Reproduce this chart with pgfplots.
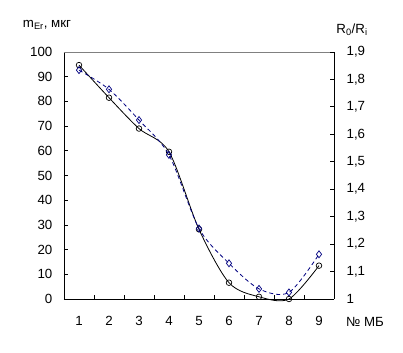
\documentclass[border=0pt]{standalone}
\usepackage{pgfplots}
\pgfplotsset{compat=1.18}
\usepackage{fontspec}
\setmainfont{Liberation Sans}
\definecolor{navy}{HTML}{000080}
\begin{document}
\fontsize{13.3bp}{16bp}\selectfont
\begin{tikzpicture}
\pgfplotsset{
  common/.style={
    scale only axis, width=270bp, height=247bp,
    xmin=0.5, xmax=9.5,
    tick align=inside, major tick length=4bp,
    tick style={black, line width=0.8bp},
    axis line style={line width=0.8bp, -},
    /pgf/number format/assume math mode=true,
    ticklabel style={font=\fontsize{13.3bp}{16bp}\selectfont},
    clip=false,
  }
}
\begin{axis}[common,
  ymin=0, ymax=100,
  axis x line*=bottom, axis y line*=left,
  ytick={0,10,...,100},
  xtick={1.5,2.5,...,8.5}, xticklabels={},
  extra x ticks={1,2,3,4,5,6,7,8,9},
  extra x tick labels={1,2,3,4,5,6,7,8,9},
  extra x tick style={major tick length=0pt, xticklabel style={yshift=-13bp}},
  yticklabel style={xshift=-7bp},
]
\coordinate (sw) at (rel axis cs:0,0);
\draw[gray, line width=0.8bp] (rel axis cs:0,1) -- (rel axis cs:1,1);
\addplot[black, line width=0.8bp, smooth, mark=o, mark size=2.8bp, mark options={solid, line width=0.7bp}]
  coordinates {(1,94.7) (2,81.5) (3,69) (4,59.6) (5,28.2) (6,6.6) (7,0.9) (8,0) (9,13.5)};
\end{axis}
\begin{axis}[common,
  ymin=1, ymax=1.9,
  axis y line*=right, axis x line=none,
  ytick={1,1.1,1.2,1.3,1.4,1.5,1.6,1.7,1.8,1.9},
  yticklabels={1,{1,1},{1,2},{1,3},{1,4},{1,5},{1,6},{1,7},{1,8},{1,9}},
  yticklabel style={xshift=8bp},
]
\addplot[navy, line width=0.8bp, smooth, dash pattern=on 4bp off 3bp, mark=diamond, mark size=3.5bp, mark options={solid, line width=0.7bp}]
  coordinates {(1,1.834) (2,1.764) (3,1.652) (4,1.525) (5,1.257) (6,1.13) (7,1.037) (8,1.024) (9,1.163)};
\end{axis}
\node at ([xshift=-17bp,yshift=274bp]sw) {m\textsubscript{Er}, мкг};
\node at ([xshift=288bp,yshift=269bp]sw) {R\textsubscript{0}/R\textsubscript{i}};
\node at ([xshift=301bp,yshift=-23bp]sw) {№ МБ};
\pgfresetboundingbox
\path ([xshift=-64bp,yshift=-54bp]sw) rectangle ([xshift=339bp,yshift=299bp]sw);
\end{tikzpicture}
\end{document}
